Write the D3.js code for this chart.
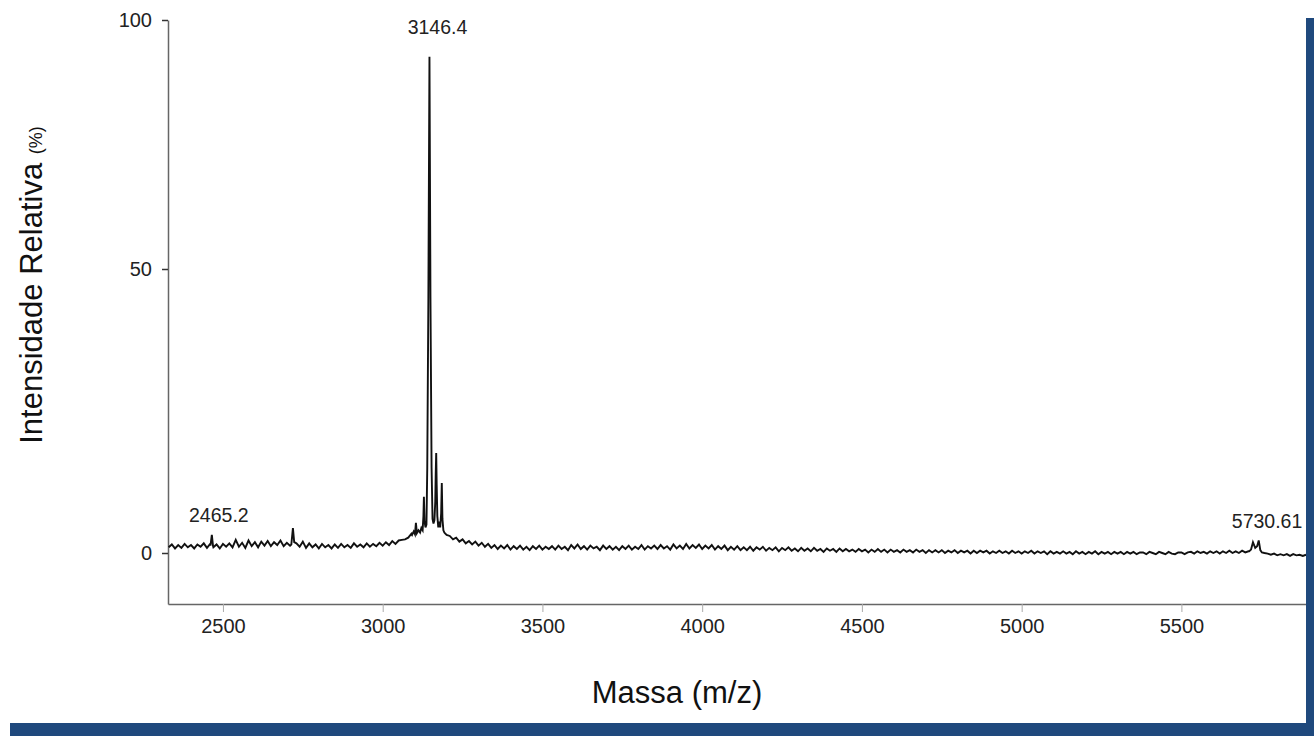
<!DOCTYPE html>
<html lang="pt">
<head>
<meta charset="UTF-8">
<title>Espectro de massa</title>
<script src="https://cdn.jsdelivr.net/npm/d3@7"></script>
<style>
  body { margin: 0; background: #fff; }
  svg { display: block; font-family: "Liberation Sans", Arial, Helvetica, sans-serif; }
  .axis text { font-size: 20px; fill: #222; }
  .axis .domain { stroke: #666; stroke-width: 1.5; }
  .x .tick line { stroke: #aaa; }
  .y .tick line { stroke: #333; stroke-width: 1.5; }
  .peak-label { font-size: 19.5px; fill: #222; text-anchor: middle; }
</style>
</head>
<body>
<script>
// eixo x: pontos do ruído de fundo, de 10 em 10 m/z a partir de 2330
var massStart = 2330, massStep = 10;
// intensidade relativa (%)
var baseline = [
  1.0, 1.5, 0.8, 1.4, 0.9, 1.6, 1.0, 1.4, 0.8, 1.5, 1.1, 1.7, 0.9, 1.6, 1.0, 1.5, 0.8, 1.6, 1.1, 1.7,
  1.0, 2.3, 1.1, 1.8, 0.9, 2.2, 1.2, 1.9, 1.0, 2.0, 1.3, 2.1, 1.2, 1.9, 1.4, 2.2, 1.2, 1.8, 1.3, 2.0,
  1.7, 1.1, 2.0, 0.9, 1.7, 1.0, 1.5, 0.8, 1.6, 1.0, 1.4, 0.8, 1.5, 0.9, 1.6, 1.0, 1.4, 0.9, 1.7, 1.1,
  1.5, 1.0, 1.7, 1.1, 1.6, 1.2, 1.8, 1.3, 1.9, 1.4, 2.1, 1.6, 2.2, 2.3, 2.4, 2.7, 3.4, 3.3, 3.8, 4.0,
  4.5, 4.8, 5.5, 5.2, 5.0, 4.5, 3.8, 3.2, 3.0, 2.4, 2.7, 2.0, 2.4, 1.7, 2.1, 1.5, 2.0, 1.3, 1.8, 1.1,
  1.6, 0.9, 1.4, 0.7, 1.3, 0.8, 1.4, 0.6, 1.2, 0.7, 1.3, 0.6, 1.1, 0.5, 1.2, 0.7, 1.3, 0.6, 1.1, 0.7,
  1.2, 0.6, 1.3, 0.7, 1.1, 0.5, 1.4, 0.8, 1.5, 0.7, 1.2, 0.6, 1.3, 0.8, 1.1, 0.5, 1.3, 0.7, 1.2, 0.6,
  1.1, 0.5, 1.2, 0.7, 1.3, 0.6, 1.1, 0.7, 1.4, 0.6, 1.2, 0.8, 1.3, 0.7, 1.4, 0.8, 1.2, 0.6, 1.5, 0.8,
  1.3, 0.7, 1.6, 0.8, 1.4, 0.9, 1.5, 0.7, 1.3, 0.8, 1.4, 0.6, 1.2, 0.7, 1.3, 0.5, 1.1, 0.6, 1.2, 0.5,
  1.0, 0.5, 1.1, 0.4, 1.0, 0.6, 1.1, 0.4, 0.9, 0.5, 1.0, 0.3, 0.9, 0.5, 1.0, 0.4, 0.8, 0.3, 0.9, 0.4,
  0.8, 0.3, 0.9, 0.4, 0.7, 0.2, 0.8, 0.4, 0.7, 0.2, 0.8, 0.3, 0.7, 0.3, 0.6, 0.2, 0.7, 0.3, 0.6, 0.1,
  0.6, 0.2, 0.7, 0.2, 0.6, 0.1, 0.6, 0.2, 0.5, 0.1, 0.6, 0.2, 0.5, 0.1, 0.6, 0.2, 0.5, 0.0, 0.5, 0.1,
  0.5, 0.1, 0.5, 0.0, 0.4, 0.1, 0.5, 0.0, 0.4, 0.1, 0.4, -0.1, 0.4, 0.0, 0.4, 0.1, 0.4, -0.1, 0.3, 0.0,
  0.4, 0.0, 0.3, -0.1, 0.4, 0.0, 0.3, -0.1, 0.3, 0.0, 0.4, -0.1, 0.3, 0.0, 0.3, -0.2, 0.3, -0.1, 0.2, -0.1,
  0.3, -0.1, 0.2, -0.2, 0.3, -0.1, 0.2, -0.2, 0.2, -0.1, 0.3, -0.2, 0.2, -0.1, 0.2, -0.2, 0.2, -0.1, 0.2, -0.2,
  0.2, -0.1, 0.2, -0.2, 0.1, 0.1, -0.2, 0.2, 0.0, -0.2, 0.2, 0.0, -0.2, 0.2, -0.1, -0.2, 0.1, 0.1, -0.2, 0.1,
  0.2, -0.1, 0.3, 0.0, 0.2, -0.1, 0.3, 0.0, 0.3, -0.1, 0.3, 0.0, 0.4, 0.0, 0.3, 0.0, 0.4, 0.1, 0.3, 0.4,
  0.8, 1.0, 0.4, 0.0, -0.1, -0.3, -0.1, -0.4, -0.2, -0.4, -0.2, -0.5, -0.2, -0.4, -0.3, -0.5, -0.3
];

// perfis dos picos [m/z, %]
var peakProfiles = [
  [[2461, 1.3], [2465.2, 3.2], [2469, 1.2]],
  [[2714, 1.5], [2719, 4.4], [2723, 1.9]],
  [[3092, 3.2], [3097, 3.8], [3101, 3.3], [3104, 5.3], [3107, 3.5], [3112, 4.0], [3117, 3.6],
   [3121, 4.4], [3125, 4.0], [3127.5, 6.5], [3129, 9.9], [3131, 5.5], [3134, 4.5], [3137, 5.0],
   [3139.5, 15], [3143, 45], [3146.4, 92.6], [3149.5, 45], [3153, 15], [3156, 6], [3159, 5.2],
   [3162, 5.8], [3164.5, 9], [3166, 14], [3167.5, 17.6], [3169, 12], [3171, 6.5], [3174, 4.5],
   [3177, 5.5], [3180, 4.5], [3183, 7], [3185, 12.3], [3187, 6], [3190, 4], [3193, 3.6], [3196, 3.4]],
  [[5712, 0.3], [5718, 0.6], [5724, 1.9], [5731, 0.9], [5737, 1.2], [5742, 2.2], [5747, 0.5], [5752, 0.1]]
];

var peakLabels = ["2465.2", "3146.4", "5730.61"];
var peakLabelMass = [2465.2, 3146.4, 5730.61];
var peakLabelInt = [3.2, 92.6, 2.2];

var xTicks = [2500, 3000, 3500, 4000, 4500, 5000, 5500];
var yTicks = [0, 50, 100];

var width = 1314, height = 736;
var svg = d3.select("body").append("svg")
  .attr("width", width)
  .attr("height", height);

// o eixo y da imagem original não é exatamente linear
var x = d3.scaleLinear().domain([2328, 5890]).range([168, 1306]);
var y = d3.scaleLinear().domain([-8.8, 0, 50, 100]).range([604, 553, 269, 20]);

// junta ruído e picos
var spans = peakProfiles.map(function(p){ return [p[0][0], p[p.length - 1][0]]; });
var points = baseline.map(function(v, i){ return [massStart + i * massStep, v]; })
  .filter(function(d){
    return !spans.some(function(s){ return d[0] >= s[0] && d[0] <= s[1]; });
  });
peakProfiles.forEach(function(p){ points = points.concat(p); });
points.sort(function(a, b){ return a[0] - b[0]; });

svg.append("g")
  .attr("class", "axis y")
  .attr("transform", "translate(168,0)")
  .call(d3.axisLeft(y).tickValues(yTicks).tickSize(6).tickSizeOuter(0).tickPadding(10));

svg.append("g")
  .attr("class", "axis x")
  .attr("transform", "translate(0,604)")
  .call(d3.axisBottom(x).tickValues(xTicks).tickFormat(d3.format("d"))
    .tickSize(8).tickSizeOuter(0).tickPadding(7));

svg.append("path")
  .datum(points)
  .attr("fill", "none")
  .attr("stroke", "#111")
  .attr("stroke-width", 1.9)
  .attr("stroke-linejoin", "miter")
  .attr("d", d3.line()
    .x(function(d){ return x(d[0]); })
    .y(function(d){ return y(d[1]); }));

// rótulos dos picos
var labelDx = [7, 8, 12], labelDy = [13, 23, 13];
svg.selectAll("text.peak-label")
  .data(peakLabels)
  .enter()
  .append("text")
  .attr("class", "peak-label")
  .attr("x", function(d, i){ return x(peakLabelMass[i]) + labelDx[i]; })
  .attr("y", function(d, i){ return y(peakLabelInt[i]) - labelDy[i]; })
  .text(function(d){ return d; });

// títulos
svg.append("text")
  .attr("x", 677)
  .attr("y", 703)
  .attr("text-anchor", "middle")
  .style("font-size", "31px")
  .style("fill", "#111")
  .text("Massa (m/z)");

var yt = svg.append("text")
  .attr("transform", "translate(42,285) rotate(-90)")
  .attr("text-anchor", "middle")
  .style("font-size", "31px")
  .style("fill", "#111");
yt.append("tspan").text("Intensidade Relativa ");
yt.append("tspan").style("font-size", "18px").text("(%)");

// moldura azul
svg.append("rect").attr("x", 1306).attr("y", 18).attr("width", 8).attr("height", 718).attr("fill", "#1f497d");
svg.append("rect").attr("x", 10).attr("y", 723).attr("width", 1304).attr("height", 13).attr("fill", "#1f497d");
</script>
</body>
</html>
